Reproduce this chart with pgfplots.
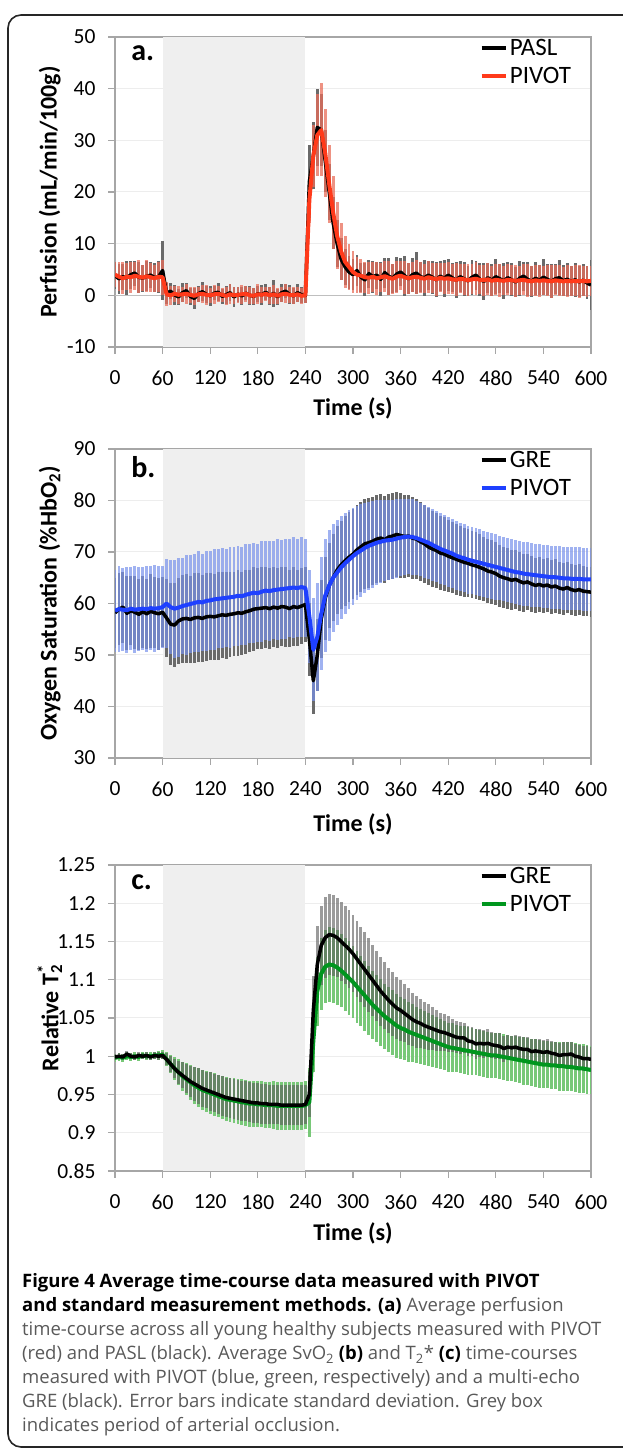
\documentclass[border=0pt]{standalone}
\usepackage{fontspec}
\setmainfont{Carlito}
\newfontfamily\capfont{Open Sans}
\usepackage{pgfplots}
\usepackage{pgfplotstable}
\pgfplotsset{compat=1.18}

\definecolor{occl}{HTML}{EFEFEF}
\definecolor{axgray}{HTML}{A6A6A6}
\definecolor{gridgray}{HTML}{EDEDED}
\definecolor{zerogray}{HTML}{BFBFBF}
\definecolor{barGray}{HTML}{6A6A6A}
\definecolor{pivRed}{HTML}{FF3A1A}
\definecolor{barRed}{HTML}{E86E5A}
\definecolor{pivBlue}{HTML}{1E40FF}
\definecolor{barBlue}{HTML}{7891EB}
\definecolor{pivGreen}{HTML}{00961E}
\definecolor{barGreen}{HTML}{78C878}

\newcommand\tickfont{\fontsize{21.5}{23}\selectfont}
\newcommand\titlefont{\fontsize{24}{28}\selectfont\bfseries}
\newcommand\legfont{\fontsize{25}{28}\selectfont}
\newcommand\letterfont{\fontsize{30}{34}\selectfont\bfseries}
\newcommand\capsize{\capfont\fontsize{18.5}{24}\selectfont}

% perfusion: t, PASL mean/sd, PIVOT mean/sd
\pgfplotstableread{
t pm ps rm rs
0 3.8 2.6 4.0 2.4
5 3.2 2.9 3.6 2.8
10 3.6 2.5 3.3 3.1
15 3.4 3.3 3.6 2.6
20 4.0 2.7 3.5 3.0
25 4.3 2.4 3.8 2.7
30 3.5 3.0 3.6 3.2
35 3.3 2.6 3.4 2.5
40 3.7 2.9 3.7 3.1
45 3.9 2.5 3.5 2.8
50 3.4 2.8 3.3 2.6
55 3.6 3.1 3.6 2.9
60 4.8 5.8 3.5 3.4
65 0.4 2.0 0.2 2.3
70 0.8 1.6 0.0 1.8
75 0.1 1.9 0.3 1.6
80 -0.3 1.5 0.1 1.7
85 0.5 1.8 0.2 1.5
90 0.9 1.4 0.3 1.9
95 -0.2 1.7 0.1 1.6
100 -0.6 2.0 -0.1 1.8
105 0.3 1.5 0.2 1.4
110 0.7 1.8 0.3 1.7
115 0.2 1.6 0.1 1.9
120 -0.1 1.9 0.0 1.5
125 0.4 1.4 0.2 1.8
130 0.6 1.7 0.3 1.6
135 -0.2 1.5 0.1 1.4
140 0.1 1.8 -0.1 1.7
145 0.5 1.6 0.2 1.9
150 -0.3 2.0 0.0 1.6
155 0.2 1.5 0.1 1.5
160 -0.1 1.7 0.2 1.8
165 0.4 1.4 0.3 1.6
170 0.0 1.8 0.0 1.7
175 -0.2 1.6 -0.1 1.5
180 0.3 1.5 0.2 1.9
185 0.1 1.9 0.1 1.6
190 0.6 1.6 0.3 1.4
195 -0.1 1.8 0.0 1.7
200 0.4 2.6 0.2 1.8
205 -0.3 1.5 -0.1 1.6
210 0.5 1.7 0.2 1.5
215 0.8 1.4 0.3 1.8
220 0.2 1.8 0.1 1.6
225 -0.1 1.5 0.0 1.7
230 0.5 1.7 0.2 1.5
235 0.1 1.6 -0.1 1.6
240 0.0 1.5 0.0 1.4
245 22.0 7.0 18.5 4.5
250 27.0 6.5 27.0 6.0
255 32.5 7.5 31.0 8.0
260 32.0 7.0 32.0 9.0
265 26.0 6.0 27.5 8.5
270 20.0 5.5 21.5 7.5
275 14.0 5.0 16.0 7.0
280 10.0 4.5 11.5 6.5
285 7.0 4.0 8.5 5.5
290 5.5 3.5 6.5 5.0
295 4.5 3.2 5.5 4.5
300 4.0 3.0 4.5 4.0
305 4.8 3.0 4.0 3.5
310 3.5 2.8 3.8 3.3
315 3.0 3.2 3.5 3.0
320 4.2 2.7 3.4 3.1
325 3.6 3.1 3.6 2.9
330 3.9 2.6 3.3 3.2
335 3.1 3.3 3.5 2.8
340 4.4 2.9 3.7 3.0
345 3.7 3.6 3.4 3.3
350 3.3 2.8 3.2 2.9
355 4.1 3.4 3.6 3.1
360 4.5 2.7 3.8 2.8
365 3.8 3.9 3.5 3.2
370 3.2 3.0 3.3 3.0
375 4.0 3.3 3.5 2.9
380 4.3 4.1 3.6 3.3
385 3.6 2.9 3.4 3.0
390 3.4 3.5 3.2 2.8
395 3.9 2.8 3.5 3.1
400 3.5 3.2 3.3 2.9
405 3.0 3.4 3.1 3.2
410 3.7 2.9 3.4 2.8
415 3.3 3.6 3.2 3.0
420 3.9 3.1 3.3 3.1
425 3.4 2.8 3.1 2.9
430 2.9 3.5 3.0 3.2
435 3.6 3.0 3.2 2.8
440 3.2 3.3 3.1 3.0
445 2.8 2.9 2.9 3.1
450 3.5 3.4 3.1 2.9
455 3.9 2.8 3.2 3.2
460 3.1 3.2 3.0 2.8
465 2.7 3.6 2.9 3.0
470 3.4 2.9 3.1 3.1
475 2.9 3.1 2.8 2.9
480 3.6 3.4 3.0 3.0
485 3.2 2.8 2.9 3.2
490 2.8 3.5 2.8 2.8
495 3.4 3.0 3.0 3.0
500 3.0 3.2 2.9 2.9
505 2.6 2.9 2.8 3.1
510 3.3 3.4 2.9 2.8
515 3.7 2.8 3.0 3.0
520 3.1 3.3 2.8 3.2
525 2.7 3.0 2.7 2.9
530 3.3 3.2 2.9 3.0
535 2.9 2.9 2.8 3.1
540 3.5 3.5 2.9 2.8
545 3.1 3.0 2.8 3.0
550 2.7 3.3 2.7 3.2
555 3.2 2.9 2.9 2.9
560 3.4 3.4 2.8 3.0
565 2.8 3.0 2.7 2.8
570 3.1 3.2 2.8 3.1
575 2.7 2.9 2.7 2.9
580 3.0 3.3 2.8 3.0
585 2.6 3.0 2.7 3.2
590 2.9 3.1 2.8 2.9
595 2.4 3.2 2.7 3.0
600 2.0 4.8 2.8 2.9
}\tabA

% oxygen saturation: t, GRE mean/sd, PIVOT mean/sd
\pgfplotstableread{
t gm gs bm bs
0 58.2 6.8 58.6 8.0
5 58.9 7.0 58.9 8.4
10 59.3 6.9 58.8 8.1
15 58.1 7.2 58.7 8.3
20 58.6 6.7 59.0 8.0
25 58.3 7.1 58.8 8.5
30 57.9 6.9 58.9 8.2
35 58.4 7.0 59.0 8.0
40 58.0 6.8 58.9 8.3
45 58.5 7.2 59.1 8.1
50 58.2 6.9 59.0 8.4
55 58.0 7.0 59.1 8.2
60 58.3 6.8 59.3 8.0
65 57.2 7.5 60.0 8.6
70 56.0 8.0 59.3 9.2
75 55.8 8.2 59.0 9.5
80 56.6 8.4 59.2 9.6
85 57.0 8.5 59.5 9.4
90 57.1 8.6 59.7 9.7
95 56.9 8.5 59.9 9.5
100 57.2 8.7 60.1 9.6
105 57.3 8.6 60.3 9.8
110 57.1 8.5 60.2 9.5
115 57.4 8.6 60.5 9.7
120 57.5 8.5 60.6 9.6
125 57.4 8.4 60.8 9.8
130 57.6 8.5 60.9 9.6
135 57.8 8.3 61.0 9.7
140 57.7 8.4 61.1 9.5
145 57.9 8.3 61.2 9.8
150 58.0 8.2 61.3 9.6
155 58.2 8.3 61.5 9.7
160 58.1 8.1 61.4 9.5
165 58.4 8.2 61.7 9.8
170 58.6 8.0 61.9 9.6
175 58.9 8.1 62.1 9.7
180 59.0 7.9 62.0 9.5
185 59.1 8.0 62.3 9.8
190 59.2 7.8 62.5 9.6
195 59.0 7.9 62.4 9.7
200 59.3 7.7 62.6 9.5
205 59.1 7.8 62.7 9.8
210 59.4 7.6 62.8 9.6
215 59.3 7.7 62.9 9.7
220 59.0 7.5 63.0 9.5
225 59.4 7.6 63.1 9.8
230 59.2 7.4 63.0 9.6
235 59.5 7.3 63.2 9.7
240 59.8 7.2 63.0 9.5
245 53.0 7.0 57.5 9.0
250 45.0 6.5 51.0 10.0
255 50.0 7.0 53.5 10.5
260 57.0 7.5 58.0 11.0
265 61.0 8.0 61.5 11.0
270 63.5 8.2 63.5 10.8
275 65.0 8.4 65.0 10.5
280 66.5 8.5 66.0 10.2
285 67.5 8.6 67.0 10.0
290 68.3 8.7 67.8 9.8
295 69.0 8.8 68.5 9.6
300 69.6 8.8 69.2 9.4
305 70.4 8.8 69.8 9.2
310 71.0 8.8 70.3 9.0
315 71.6 8.7 70.8 8.8
320 71.8 8.7 71.2 8.6
325 72.1 8.6 71.5 8.4
330 72.5 8.6 71.8 8.2
335 72.7 8.5 72.0 8.0
340 72.4 8.5 72.2 7.9
345 72.9 8.4 72.3 7.8
350 73.1 8.3 72.4 7.7
355 73.4 8.3 72.6 7.6
360 73.2 8.2 72.8 7.5
365 73.0 8.1 72.9 7.4
370 73.1 8.0 73.0 7.3
375 72.7 7.9 72.9 7.3
380 72.5 7.8 72.7 7.2
385 72.0 7.7 72.4 7.1
390 71.6 7.6 72.1 7.1
395 71.0 7.5 71.8 7.0
400 70.6 7.4 71.4 7.0
405 70.3 7.3 71.0 6.9
410 69.8 7.2 70.6 6.9
415 69.6 7.1 70.3 6.8
420 69.2 7.0 70.0 6.8
425 68.9 6.9 69.7 6.7
430 68.6 6.9 69.3 6.7
435 68.3 6.8 69.0 6.6
440 68.0 6.7 68.8 6.6
445 67.8 6.6 68.5 6.6
450 67.5 6.5 68.3 6.5
455 67.3 6.5 68.1 6.5
460 67.0 6.4 67.9 6.5
465 66.7 6.3 67.7 6.4
470 66.3 6.2 67.5 6.4
475 66.1 6.2 67.3 6.4
480 65.8 6.1 67.1 6.4
485 65.3 6.0 66.9 6.3
490 65.0 5.9 66.7 6.3
495 64.8 5.9 66.5 6.3
500 64.5 5.8 66.3 6.3
505 64.7 5.7 66.1 6.2
510 64.3 5.7 66.0 6.2
515 64.0 5.6 65.8 6.2
520 64.2 5.5 65.7 6.2
525 63.8 5.5 65.6 6.2
530 63.5 5.4 65.5 6.1
535 63.7 5.4 65.4 6.1
540 63.4 5.3 65.3 6.1
545 63.6 5.3 65.2 6.1
550 63.2 5.2 65.1 6.1
555 63.4 5.2 65.1 6.1
560 63.0 5.1 65.0 6.1
565 62.8 5.1 64.9 6.1
570 63.1 5.0 64.9 6.1
575 62.7 5.0 64.8 6.1
580 62.5 5.0 64.8 6.1
585 62.7 4.9 64.8 6.1
590 62.4 4.9 64.7 6.1
595 62.3 4.8 64.7 6.1
600 62.2 4.8 64.7 6.1
}\tabB

% relative T2*: t, GRE mean/sd, PIVOT mean/sd
\pgfplotstableread{
t gm gs vm vs
0 0.999 0.004 0.998 0.005
5 1.000 0.004 0.999 0.005
10 0.999 0.004 0.998 0.005
15 1.003 0.004 1.000 0.005
20 1.000 0.004 0.999 0.005
25 0.999 0.004 1.000 0.005
30 1.001 0.004 0.999 0.005
35 1.000 0.004 1.001 0.005
40 1.001 0.004 1.000 0.005
45 0.999 0.004 1.000 0.005
50 1.001 0.005 1.001 0.005
55 1.000 0.005 1.001 0.006
60 1.001 0.005 1.002 0.006
65 0.996 0.008 0.996 0.009
70 0.990 0.010 0.990 0.012
75 0.984 0.013 0.984 0.015
80 0.979 0.015 0.979 0.017
85 0.975 0.017 0.974 0.019
90 0.971 0.019 0.970 0.021
95 0.967 0.020 0.966 0.023
100 0.964 0.022 0.962 0.024
105 0.961 0.023 0.959 0.025
110 0.958 0.024 0.956 0.026
115 0.956 0.024 0.954 0.027
120 0.954 0.025 0.952 0.027
125 0.952 0.025 0.950 0.028
130 0.950 0.025 0.948 0.028
135 0.948 0.026 0.946 0.028
140 0.946 0.026 0.944 0.029
145 0.945 0.026 0.943 0.029
150 0.944 0.026 0.942 0.029
155 0.943 0.026 0.941 0.029
160 0.942 0.026 0.940 0.030
165 0.941 0.026 0.939 0.030
170 0.940 0.026 0.938 0.030
175 0.939 0.026 0.938 0.030
180 0.939 0.026 0.937 0.030
185 0.938 0.026 0.937 0.030
190 0.938 0.026 0.936 0.030
195 0.937 0.026 0.936 0.030
200 0.937 0.026 0.936 0.031
205 0.937 0.026 0.935 0.031
210 0.936 0.026 0.935 0.031
215 0.936 0.026 0.935 0.031
220 0.936 0.026 0.935 0.031
225 0.936 0.026 0.935 0.031
230 0.936 0.026 0.935 0.031
235 0.936 0.026 0.935 0.031
240 0.937 0.026 0.936 0.031
245 0.950 0.030 0.940 0.045
250 1.060 0.045 1.020 0.040
255 1.120 0.050 1.085 0.045
260 1.145 0.052 1.108 0.047
265 1.155 0.053 1.117 0.048
270 1.159 0.053 1.120 0.049
275 1.158 0.053 1.119 0.049
280 1.155 0.052 1.116 0.049
285 1.150 0.052 1.112 0.048
290 1.145 0.051 1.107 0.048
295 1.140 0.051 1.102 0.048
300 1.134 0.050 1.097 0.047
305 1.127 0.050 1.091 0.047
310 1.120 0.049 1.085 0.046
315 1.113 0.049 1.079 0.046
320 1.106 0.048 1.073 0.045
325 1.099 0.047 1.067 0.045
330 1.092 0.046 1.062 0.044
335 1.085 0.045 1.057 0.044
340 1.079 0.044 1.052 0.043
345 1.073 0.043 1.048 0.043
350 1.068 0.042 1.044 0.042
355 1.063 0.041 1.040 0.042
360 1.060 0.040 1.037 0.041
365 1.056 0.038 1.035 0.040
370 1.052 0.037 1.032 0.039
375 1.048 0.035 1.030 0.038
380 1.045 0.034 1.028 0.037
385 1.043 0.032 1.026 0.036
390 1.040 0.031 1.024 0.035
395 1.038 0.030 1.022 0.035
400 1.036 0.028 1.020 0.034
405 1.034 0.027 1.018 0.033
410 1.032 0.025 1.016 0.033
415 1.031 0.024 1.014 0.032
420 1.029 0.023 1.012 0.032
425 1.027 0.022 1.011 0.032
430 1.025 0.021 1.010 0.031
435 1.024 0.021 1.009 0.031
440 1.024 0.020 1.008 0.031
445 1.020 0.020 1.007 0.031
450 1.019 0.019 1.006 0.031
455 1.016 0.019 1.005 0.030
460 1.017 0.018 1.004 0.030
465 1.016 0.018 1.003 0.030
470 1.017 0.018 1.002 0.030
475 1.015 0.017 1.001 0.030
480 1.014 0.017 1.001 0.030
485 1.013 0.017 1.000 0.030
490 1.010 0.017 0.999 0.030
495 1.012 0.016 0.998 0.030
500 1.011 0.016 0.997 0.030
505 1.012 0.016 0.996 0.030
510 1.010 0.016 0.995 0.030
515 1.009 0.016 0.994 0.031
520 1.009 0.016 0.993 0.031
525 1.006 0.016 0.992 0.031
530 1.007 0.016 0.991 0.031
535 1.006 0.016 0.990 0.031
540 1.005 0.016 0.989 0.031
545 1.006 0.016 0.989 0.031
550 1.004 0.016 0.988 0.031
555 1.003 0.016 0.988 0.031
560 1.001 0.016 0.987 0.032
565 1.002 0.016 0.987 0.032
570 1.002 0.016 0.986 0.032
575 1.003 0.016 0.986 0.032
580 1.000 0.016 0.985 0.032
585 0.999 0.016 0.984 0.032
590 0.997 0.016 0.984 0.032
595 0.997 0.016 0.983 0.032
600 0.996 0.016 0.982 0.032
}\tabC

\pgfplotsset{
  panel/.style={
    scale only axis, width=476pt,
    xmin=0, xmax=600, xtick={0,60,...,600},
    axis line style={draw=axgray, line width=1.3pt},
    tick style={draw=axgray, line width=1.3pt},
    tick align=outside, major tick length=7pt,
    tick pos=left,
    ymajorgrids, major grid style={draw=gridgray, line width=1pt},
    tick label style={font=\tickfont},
    xticklabel style={yshift=-13pt},
    yticklabel style={xshift=-9pt},
    /pgf/number format/assume math mode=true,
    xlabel={Time (s)},
    label style={font=\titlefont},
    ylabel style={at={(axis description cs:-0.137,0.5)}, anchor=center},
    legend style={draw=none, fill=none, font=\legfont, anchor=north west,
      at={(0.765,1.0)}, inner sep=0pt, row sep=6pt},
    legend cell align=left,
    legend image code/.code={\draw[##1, line width=4.5pt] (0pt,0pt) -- (24pt,0pt);},
  },
  ebar/.style={forget plot, draw=none, mark=none,
    error bars/.cd, y dir=both, y explicit, error mark=none,
    error bar style={line width=2.9pt, #1}},
}

\begin{document}
\begin{tikzpicture}[x=1pt, y=1pt]
\useasboundingbox (0,0) rectangle (623,1454);
\draw[line width=1.6pt, black!85, rounded corners=13pt] (650,1439) -- (8,1439) -- (8,7) -- (650,7);

% a. perfusion
\begin{axis}[panel, at={(115pt,1107pt)}, anchor=south west, height=310pt,
  ymin=-10, ymax=50, ytick={-10,0,...,50},
  ylabel={Perfusion (mL/min/100g)},
  xlabel style={at={(axis description cs:0.5,-0.197)}, anchor=center}]
\addplot[fill=occl, draw=none, forget plot] coordinates {(60,-10) (60,50) (240,50) (240,-10)};
\addplot[zerogray, line width=1.5pt, forget plot] coordinates {(0,0) (600,0)};
\addplot[ebar={draw=barGray}] table[x=t, y=pm, y error=ps] {\tabA};
\addplot[ebar={draw=barRed, opacity=0.75}] table[x=t, y=rm, y error=rs] {\tabA};
\addplot[forget plot, black, line width=3.5pt, line join=round] table[x=t, y=pm] {\tabA};
\addplot[forget plot, pivRed, line width=4pt, line join=round] table[x=t, y=rm] {\tabA};
\addlegendimage{black}
\addlegendentry{PASL}
\addlegendimage{pivRed}
\addlegendentry{PIVOT}
\node[font=\letterfont, anchor=west] at (rel axis cs:0.027,0.948) {a.};
\end{axis}

% b. oxygen saturation
\begin{axis}[panel, at={(115pt,696pt)}, anchor=south west, height=309pt,
  ymin=30, ymax=90, ytick={30,40,...,90},
  ylabel={Oxygen Saturation (\%HbO\textsubscript{2})},
  xlabel style={at={(axis description cs:0.5,-0.215)}, anchor=center}]
\addplot[fill=occl, draw=none, forget plot] coordinates {(60,30) (60,90) (240,90) (240,30)};
\addplot[ebar={draw=barGray}] table[x=t, y=gm, y error=gs] {\tabB};
\addplot[ebar={draw=barBlue, opacity=0.7}] table[x=t, y=bm, y error=bs] {\tabB};
\addplot[forget plot, black, line width=3.5pt, line join=round] table[x=t, y=gm] {\tabB};
\addplot[forget plot, pivBlue, line width=4pt, line join=round] table[x=t, y=bm] {\tabB};
\addlegendimage{black}
\addlegendentry{GRE}
\addlegendimage{pivBlue}
\addlegendentry{PIVOT}
\node[font=\letterfont, anchor=west] at (rel axis cs:0.027,0.94) {b.};
\end{axis}

% c. relative T2*
\begin{axis}[panel, at={(115pt,283pt)}, anchor=south west, height=306pt,
  ymin=0.85, ymax=1.25, ytick={0.85,0.9,0.95,1,1.05,1.1,1.15,1.2,1.25},
  ylabel={Relative T\rlap{\textsubscript{2}}\textsuperscript{*}},
  xlabel style={at={(axis description cs:0.5,-0.205)}, anchor=center}]
\addplot[fill=occl, draw=none, forget plot] coordinates {(60,0.85) (60,1.25) (240,1.25) (240,0.85)};
\addplot[ebar={draw=barGreen}] table[x=t, y=vm, y error=vs] {\tabC};
\addplot[ebar={draw=black!65, opacity=0.6}] table[x=t, y=gm, y error=gs] {\tabC};
\addplot[forget plot, pivGreen, line width=4pt, line join=round] table[x=t, y=vm] {\tabC};
\addplot[forget plot, black, line width=3.5pt, line join=round] table[x=t, y=gm] {\tabC};
\addlegendimage{black}
\addlegendentry{GRE}
\addlegendimage{pivGreen}
\addlegendentry{PIVOT}
\node[font=\letterfont, anchor=west] at (rel axis cs:0.027,0.945) {c.};
\end{axis}

% caption
\begin{scope}[every node/.style={anchor=base west, inner sep=0pt, font=\capsize, text=black!65}]
\node at (22,166) {\textcolor{black}{\bfseries Figure 4 Average time-course data measured with PIVOT}};
\node at (22,142) {\textcolor{black}{\bfseries and standard measurement methods. (a)} Average perfusion};
\node at (22,118) {time-course across all young healthy subjects measured with PIVOT};
\node at (22,94) {(red) and PASL (black). Average SvO\textsubscript{2} \textcolor{black}{\bfseries (b)} and T\textsubscript{2}* \textcolor{black}{\bfseries (c)} time-courses};
\node at (22,70) {measured with PIVOT (blue, green, respectively) and a multi-echo};
\node at (22,46) {GRE (black). Error bars indicate standard deviation. Grey box};
\node at (22,22) {indicates period of arterial occlusion.};
\end{scope}
\end{tikzpicture}
\end{document}
